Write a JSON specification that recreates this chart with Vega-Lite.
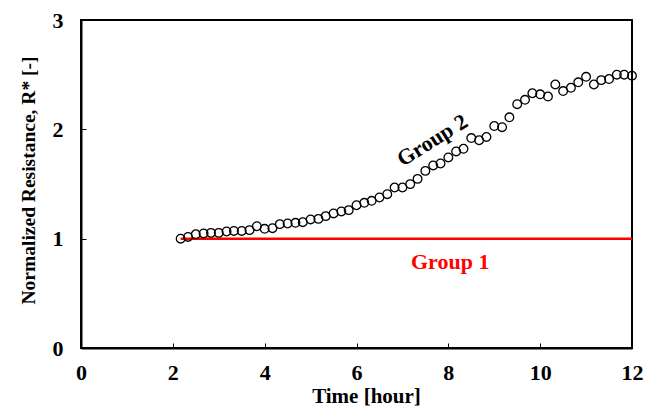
{
  "$schema": "https://vega.github.io/schema/vega-lite/v6.json",
  "width": 551,
  "height": 328,
  "autosize": "none",
  "padding": {"left": 81, "top": 20, "right": 24, "bottom": 59},
  "background": "white",
  "config": {
    "view": {"stroke": "black", "strokeWidth": 2},
    "font": "Liberation Serif",
    "axis": {
      "labelFont": "Liberation Serif",
      "titleFont": "Liberation Serif",
      "labelFontWeight": "bold",
      "titleFontWeight": "bold",
      "labelFontSize": 22,
      "labelColor": "black",
      "titleColor": "black",
      "domainColor": "black",
      "domainWidth": 2,
      "tickColor": "black",
      "tickWidth": 1,
      "tickSize": -5,
      "labelFlush": false,
      "labelOverlap": false,
      "grid": false
    }
  },
  "datasets": {
    "group2": [
      {"t": 2.17, "r": 1.00}, {"t": 2.33, "r": 1.016}, {"t": 2.50, "r": 1.04}, {"t": 2.67, "r": 1.048},
      {"t": 2.83, "r": 1.053}, {"t": 3.00, "r": 1.053}, {"t": 3.17, "r": 1.066}, {"t": 3.33, "r": 1.071},
      {"t": 3.50, "r": 1.071}, {"t": 3.67, "r": 1.078}, {"t": 3.83, "r": 1.114}, {"t": 4.00, "r": 1.09},
      {"t": 4.17, "r": 1.096}, {"t": 4.33, "r": 1.133}, {"t": 4.50, "r": 1.139}, {"t": 4.67, "r": 1.145},
      {"t": 4.83, "r": 1.151}, {"t": 5.00, "r": 1.176}, {"t": 5.17, "r": 1.181}, {"t": 5.33, "r": 1.206},
      {"t": 5.50, "r": 1.231}, {"t": 5.67, "r": 1.249}, {"t": 5.83, "r": 1.261}, {"t": 6.00, "r": 1.306},
      {"t": 6.17, "r": 1.328}, {"t": 6.33, "r": 1.346}, {"t": 6.50, "r": 1.377}, {"t": 6.67, "r": 1.407},
      {"t": 6.83, "r": 1.468}, {"t": 7.00, "r": 1.468}, {"t": 7.17, "r": 1.499}, {"t": 7.33, "r": 1.547},
      {"t": 7.50, "r": 1.62}, {"t": 7.67, "r": 1.67}, {"t": 7.83, "r": 1.688}, {"t": 8.00, "r": 1.743},
      {"t": 8.17, "r": 1.798}, {"t": 8.33, "r": 1.822}, {"t": 8.50, "r": 1.92}, {"t": 8.67, "r": 1.90},
      {"t": 8.83, "r": 1.93}, {"t": 9.00, "r": 2.03}, {"t": 9.17, "r": 2.02}, {"t": 9.33, "r": 2.11},
      {"t": 9.50, "r": 2.23}, {"t": 9.67, "r": 2.27}, {"t": 9.83, "r": 2.33}, {"t": 10.00, "r": 2.32},
      {"t": 10.17, "r": 2.30}, {"t": 10.33, "r": 2.41}, {"t": 10.50, "r": 2.35}, {"t": 10.67, "r": 2.38},
      {"t": 10.83, "r": 2.43}, {"t": 11.00, "r": 2.48}, {"t": 11.17, "r": 2.41}, {"t": 11.33, "r": 2.45},
      {"t": 11.50, "r": 2.46}, {"t": 11.67, "r": 2.50}, {"t": 11.83, "r": 2.50}, {"t": 12.00, "r": 2.49}
    ],
    "group1": [
      {"t": 2.17, "r": 1.0}, {"t": 12.0, "r": 1.0}
    ],
    "labels": [
      {"t": 7.65, "r": 1.90, "label": "Group 2", "group": "g2"},
      {"t": 8.04, "r": 0.79, "label": "Group 1", "group": "g1"}
    ]
  },
  "layer": [
    {
      "data": {"name": "group1"},
      "mark": {"type": "line", "color": "#ff0000", "strokeWidth": 2.5},
      "encoding": {
        "x": {"field": "t", "type": "quantitative", "scale": {"domain": [0, 12]},
              "axis": {"title": "Time [hour]", "titleFontSize": 21, "titleX": 285, "values": [0, 2, 4, 6, 8, 10, 12], "format": "d", "labelPadding": 19, "titlePadding": 2}},
        "y": {"field": "r", "type": "quantitative", "scale": {"domain": [0, 3]},
              "axis": {"title": "Normalized Resistance, R* [-]", "titleFontSize": 19.5, "titleY": 160, "values": [0, 1, 2, 3], "format": "d", "labelPadding": 23, "titlePadding": 14}}
      }
    },
    {
      "data": {"name": "group2"},
      "mark": {"type": "point", "shape": "circle", "filled": false, "stroke": "black", "strokeWidth": 1.3, "size": 75, "opacity": 1},
      "encoding": {
        "x": {"field": "t", "type": "quantitative"},
        "y": {"field": "r", "type": "quantitative"}
      }
    },
    {
      "data": {"name": "labels"},
      "transform": [{"filter": "datum.group == 'g2'"}],
      "mark": {"type": "text", "font": "Liberation Serif", "fontWeight": "bold", "fontSize": 22, "color": "black", "angle": 328},
      "encoding": {
        "x": {"field": "t", "type": "quantitative"},
        "y": {"field": "r", "type": "quantitative"},
        "text": {"field": "label"}
      }
    },
    {
      "data": {"name": "labels"},
      "transform": [{"filter": "datum.group == 'g1'"}],
      "mark": {"type": "text", "font": "Liberation Serif", "fontWeight": "bold", "fontSize": 22, "color": "#ff0000"},
      "encoding": {
        "x": {"field": "t", "type": "quantitative"},
        "y": {"field": "r", "type": "quantitative"},
        "text": {"field": "label"}
      }
    }
  ]
}
